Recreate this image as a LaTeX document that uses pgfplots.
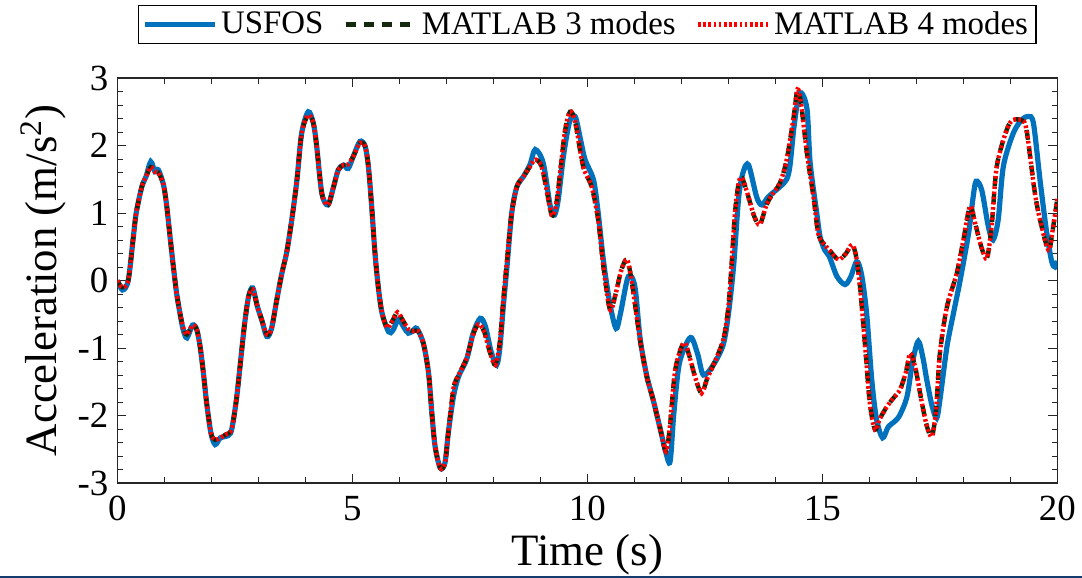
\documentclass[border=0pt]{standalone}
\usepackage{pgfplots}
\pgfplotsset{compat=1.18}
\usepackage{fontspec}
\setmainfont{Liberation Serif}
\definecolor{mblue}{rgb}{0,0.447,0.741}
\definecolor{mdark}{rgb}{0.08,0.16,0.05}
\definecolor{axgray}{rgb}{0.15,0.15,0.15}
\begin{document}
\begin{tikzpicture}
\useasboundingbox (-58.7bp,-47.5bp) rectangle (482.3bp,241.5bp);
\begin{axis}[
  scale only axis, width=470bp, height=202.5bp,
  xmin=0, xmax=20, ymin=-3, ymax=3,
  xtick={0,5,10,15,20}, xticklabels={0,5,10,15,20},
  ytick={-3,-2,-1,0,1,2,3}, yticklabels={-3,-2,-1,0,1,2,3},
  minor x tick num=4, minor y tick num=4,
  tick align=inside, major tick length=4.5bp, minor tick length=2.8bp,
  every tick/.style={axgray, line width=0.5bp},
  axis line style={axgray, line width=0.6bp},
  tick label style={font=\fontsize{18.5}{19}\selectfont, black},
  xticklabel style={yshift=-3bp},
  yticklabel style={xshift=-1bp},
  label style={font=\fontsize{22.5}{24}\selectfont},
  xlabel={Time (s)}, ylabel={Acceleration (m/s\textsuperscript{2})},
  xlabel style={yshift=0bp},
  ylabel style={yshift=-1bp},
  legend columns=3,
  legend style={at={(0.5,1.18)}, anchor=north, draw=black, line width=0.6bp,
    font=\fontsize{16.5}{18}\selectfont, inner xsep=2bp, inner ysep=1bp,
    /tikz/every even column/.append style={column sep=8bp}},
  legend cell align=left,
  legend image code/.code={\draw[#1, line width=2.2bp] (0bp,0bp) -- (35bp,0bp);},
]
\addplot[mblue, line width=2.6bp, smooth, tension=0.5] coordinates {
(0,0) (0.11,-0.14) (0.23,0) (0.34,0.65) (0.40,1.0) (0.52,1.39) (0.61,1.54) (0.71,1.76) (0.80,1.61) (0.87,1.64) (0.98,1.42) (1.05,1.10) (1.12,0.65) (1.19,0.21) (1.26,-0.19) (1.33,-0.48) (1.40,-0.73) (1.48,-0.85) (1.60,-0.66) (1.69,-0.73) (1.76,-0.98) (1.83,-1.37) (1.90,-1.82) (1.99,-2.26) (2.08,-2.43) (2.19,-2.33) (2.31,-2.31) (2.41,-2.26) (2.47,-2.06) (2.54,-1.72) (2.61,-1.27) (2.70,-0.68) (2.79,-0.24) (2.88,-0.11) (2.98,-0.39) (3.07,-0.58) (3.18,-0.83) (3.28,-0.71) (3.39,-0.29) (3.50,0.11) (3.60,0.41) (3.71,0.90) (3.82,1.49) (3.92,2.18) (4.06,2.50) (4.17,2.33) (4.24,1.99) (4.35,1.29) (4.48,1.12) (4.60,1.39) (4.70,1.64) (4.81,1.71) (4.91,1.66) (5.02,1.84) (5.16,2.06) (5.27,1.99) (5.34,1.69) (5.41,1.10) (5.48,0.41) (5.55,-0.09) (5.63,-0.48) (5.77,-0.76) (5.86,-0.74) (5.98,-0.58) (6.10,-0.70) (6.19,-0.78) (6.28,-0.75) (6.37,-0.71) (6.51,-0.93) (6.62,-1.37) (6.69,-1.96) (6.76,-2.46) (6.87,-2.78) (6.97,-2.70) (7.04,-2.26) (7.15,-1.72) (7.26,-1.42) (7.43,-1.17) (7.57,-0.78) (7.72,-0.56) (7.83,-0.68) (7.95,-1.05) (8.07,-1.25) (8.14,-0.98) (8.21,-0.39) (8.29,0.21) (8.39,1.0) (8.50,1.39) (8.64,1.54) (8.78,1.72) (8.89,1.94) (9.06,1.74) (9.21,1.10) (9.30,0.97) (9.38,1.20) (9.49,1.84) (9.62,2.35) (9.74,2.43) (9.85,2.10) (9.95,1.79) (10.13,1.49) (10.23,1.0) (10.34,0.3) (10.48,-0.35) (10.61,-0.71) (10.70,-0.50) (10.87,0.06) (11.01,-0.09) (11.12,-0.85) (11.26,-1.40) (11.40,-1.77) (11.55,-2.20) (11.67,-2.55) (11.76,-2.68) (11.84,-1.96) (11.95,-1.25) (12.11,-0.93) (12.22,-0.85) (12.35,-1.10) (12.47,-1.40) (12.68,-1.25) (12.89,-0.95) (13.00,-0.50) (13.11,0.21) (13.22,1.24) (13.32,1.62) (13.43,1.71) (13.60,1.24) (13.71,1.12) (13.85,1.24) (14.10,1.39) (14.24,1.50) (14.31,1.70) (14.40,2.30) (14.52,2.78) (14.67,2.55) (14.74,1.74) (14.88,1.0) (14.95,0.65) (15.05,0.45) (15.15,0.35) (15.31,0.06) (15.48,-0.06) (15.60,0.05) (15.73,0.28) (15.83,0.10) (15.94,-0.48) (16.05,-1.47) (16.15,-2.05) (16.28,-2.33) (16.40,-2.17) (16.55,-2.08) (16.65,-1.99) (16.80,-1.72) (16.92,-1.20) (17.04,-0.90) (17.14,-1.15) (17.22,-1.47) (17.33,-1.85) (17.43,-2.04) (17.50,-1.77) (17.65,-0.98) (17.79,-0.48) (17.93,0.0) (18.11,0.70) (18.20,1.20) (18.27,1.47) (18.39,1.34) (18.53,0.80) (18.63,0.60) (18.74,0.90) (18.85,1.69) (19.06,2.18) (19.24,2.38) (19.38,2.43) (19.49,2.33) (19.63,1.49) (19.77,0.72) (19.88,0.28) (19.95,0.20) (20.0,0.29)
};
\addlegendentry{USFOS}
\addplot[mdark, line width=2.2bp, dash pattern=on 5bp off 4bp, smooth, tension=0.5] coordinates {
(0,0) (0.10,-0.10) (0.23,0) (0.34,0.65) (0.40,1.0) (0.52,1.39) (0.61,1.54) (0.71,1.68) (0.80,1.61) (0.87,1.60) (0.98,1.42) (1.05,1.10) (1.12,0.65) (1.19,0.21) (1.26,-0.19) (1.33,-0.48) (1.40,-0.70) (1.48,-0.80) (1.60,-0.66) (1.69,-0.73) (1.76,-0.98) (1.83,-1.37) (1.90,-1.82) (1.99,-2.26) (2.08,-2.36) (2.19,-2.33) (2.31,-2.28) (2.41,-2.24) (2.47,-2.06) (2.54,-1.72) (2.61,-1.27) (2.70,-0.68) (2.79,-0.24) (2.88,-0.13) (2.98,-0.39) (3.07,-0.58) (3.18,-0.80) (3.28,-0.71) (3.39,-0.29) (3.50,0.11) (3.60,0.41) (3.71,0.90) (3.82,1.49) (3.92,2.18) (4.06,2.45) (4.17,2.33) (4.24,1.99) (4.35,1.29) (4.48,1.12) (4.60,1.39) (4.70,1.64) (4.81,1.71) (4.91,1.72) (5.02,1.84) (5.16,2.04) (5.27,1.99) (5.34,1.69) (5.41,1.10) (5.48,0.41) (5.55,-0.09) (5.63,-0.48) (5.74,-0.70) (5.85,-0.60) (5.96,-0.47) (6.08,-0.60) (6.19,-0.72) (6.30,-0.75) (6.40,-0.75) (6.51,-0.93) (6.62,-1.37) (6.69,-1.96) (6.76,-2.46) (6.87,-2.78) (6.97,-2.70) (7.04,-2.26) (7.15,-1.60) (7.26,-1.40) (7.43,-1.15) (7.57,-0.80) (7.68,-0.65) (7.80,-0.75) (7.92,-1.05) (8.04,-1.25) (8.14,-0.90) (8.21,-0.30) (8.29,0.30) (8.39,1.0) (8.50,1.39) (8.64,1.54) (8.78,1.69) (8.89,1.79) (9.02,1.70) (9.13,1.35) (9.24,0.97) (9.33,1.10) (9.42,1.60) (9.52,2.20) (9.63,2.50) (9.74,2.35) (9.91,1.69) (10.09,1.39) (10.23,0.90) (10.34,0.21) (10.48,-0.43) (10.60,-0.20) (10.72,0.15) (10.84,0.31) (10.94,0.0) (11.12,-0.88) (11.26,-1.42) (11.40,-1.77) (11.55,-2.20) (11.67,-2.53) (11.75,-2.20) (11.87,-1.32) (12.04,-0.93) (12.14,-1.05) (12.30,-1.45) (12.43,-1.67) (12.55,-1.45) (12.68,-1.25) (12.89,-0.88) (13.0,-0.39) (13.07,0.26) (13.14,1.0) (13.22,1.45) (13.29,1.52) (13.40,1.30) (13.55,0.95) (13.67,0.83) (13.80,1.10) (13.90,1.24) (14.10,1.45) (14.24,1.79) (14.38,2.38) (14.47,2.83) (14.55,2.60) (14.67,1.89) (14.81,1.24) (14.91,0.70) (15.02,0.55) (15.15,0.45) (15.34,0.31) (15.50,0.40) (15.63,0.53) (15.72,0.35) (15.80,-0.09) (15.91,-0.98) (16.01,-1.82) (16.12,-2.21) (16.22,-2.05) (16.37,-1.87) (16.50,-1.75) (16.65,-1.62) (16.78,-1.35) (16.87,-1.08) (16.98,-1.30) (17.10,-1.75) (17.22,-2.15) (17.33,-2.31) (17.42,-1.90) (17.50,-1.08) (17.65,-0.39) (17.86,0.11) (18.00,0.60) (18.14,1.10) (18.25,0.85) (18.38,0.50) (18.50,0.33) (18.60,0.80) (18.71,1.69) (18.92,2.23) (19.06,2.38) (19.28,2.36) (19.35,2.20) (19.42,1.84) (19.52,1.30) (19.63,0.90) (19.81,0.45) (19.90,0.75) (20,1.22)
};
\addlegendentry{MATLAB 3 modes}
\addplot[red, line width=2.2bp, dash pattern=on 1.3bp off 1.3bp, smooth, tension=0.5] coordinates {
(0,0) (0.10,-0.10) (0.23,0) (0.34,0.65) (0.40,1.0) (0.52,1.39) (0.61,1.54) (0.71,1.68) (0.80,1.61) (0.87,1.60) (0.98,1.42) (1.05,1.10) (1.12,0.65) (1.19,0.21) (1.26,-0.19) (1.33,-0.48) (1.40,-0.70) (1.48,-0.80) (1.60,-0.66) (1.69,-0.73) (1.76,-0.98) (1.83,-1.37) (1.90,-1.82) (1.99,-2.26) (2.08,-2.36) (2.19,-2.33) (2.31,-2.28) (2.41,-2.24) (2.47,-2.06) (2.54,-1.72) (2.61,-1.27) (2.70,-0.68) (2.79,-0.24) (2.88,-0.13) (2.98,-0.39) (3.07,-0.58) (3.18,-0.80) (3.28,-0.71) (3.39,-0.29) (3.50,0.11) (3.60,0.41) (3.71,0.90) (3.82,1.49) (3.92,2.18) (4.06,2.45) (4.17,2.33) (4.24,1.99) (4.35,1.29) (4.48,1.12) (4.60,1.39) (4.70,1.64) (4.81,1.71) (4.91,1.72) (5.02,1.84) (5.16,2.04) (5.27,1.99) (5.34,1.69) (5.41,1.10) (5.48,0.41) (5.55,-0.09) (5.63,-0.48) (5.74,-0.70) (5.85,-0.60) (5.96,-0.47) (6.08,-0.60) (6.19,-0.72) (6.30,-0.75) (6.40,-0.75) (6.51,-0.93) (6.62,-1.37) (6.69,-1.96) (6.76,-2.46) (6.87,-2.78) (6.97,-2.70) (7.04,-2.26) (7.15,-1.60) (7.26,-1.40) (7.43,-1.15) (7.57,-0.80) (7.68,-0.65) (7.80,-0.75) (7.92,-1.05) (8.04,-1.25) (8.14,-0.90) (8.21,-0.30) (8.29,0.30) (8.39,1.0) (8.50,1.39) (8.64,1.54) (8.78,1.69) (8.89,1.79) (9.02,1.70) (9.13,1.35) (9.24,0.97) (9.33,1.10) (9.42,1.60) (9.52,2.20) (9.63,2.50) (9.74,2.35) (9.91,1.69) (10.09,1.39) (10.23,0.90) (10.34,0.21) (10.48,-0.43) (10.60,-0.20) (10.72,0.15) (10.84,0.31) (10.94,0.0) (11.12,-0.88) (11.26,-1.42) (11.40,-1.77) (11.55,-2.20) (11.67,-2.53) (11.75,-2.20) (11.87,-1.32) (12.04,-0.93) (12.14,-1.05) (12.30,-1.45) (12.43,-1.67) (12.55,-1.45) (12.68,-1.25) (12.89,-0.88) (13.0,-0.39) (13.07,0.26) (13.14,1.0) (13.22,1.45) (13.29,1.52) (13.40,1.30) (13.55,0.95) (13.67,0.83) (13.80,1.10) (13.90,1.24) (14.10,1.45) (14.24,1.79) (14.38,2.38) (14.47,2.83) (14.55,2.60) (14.67,1.89) (14.81,1.24) (14.91,0.70) (15.02,0.55) (15.15,0.45) (15.34,0.31) (15.50,0.40) (15.63,0.53) (15.72,0.35) (15.80,-0.09) (15.91,-0.98) (16.01,-1.82) (16.12,-2.21) (16.22,-2.05) (16.37,-1.87) (16.50,-1.75) (16.65,-1.62) (16.78,-1.35) (16.87,-1.08) (16.98,-1.30) (17.10,-1.75) (17.22,-2.15) (17.33,-2.31) (17.42,-1.90) (17.50,-1.08) (17.65,-0.39) (17.86,0.11) (18.00,0.60) (18.14,1.10) (18.25,0.85) (18.38,0.50) (18.50,0.33) (18.60,0.80) (18.71,1.69) (18.92,2.23) (19.06,2.38) (19.28,2.36) (19.35,2.20) (19.42,1.84) (19.52,1.30) (19.63,0.90) (19.81,0.45) (19.90,0.75) (20,1.22)
};
\addlegendentry{MATLAB 4 modes}
\end{axis}
\draw[color={rgb,255:red,20;green,60;blue,110}, line width=1.2bp] (-58.7bp,-46.9bp) -- (482.3bp,-46.9bp);
\end{tikzpicture}
\end{document}
